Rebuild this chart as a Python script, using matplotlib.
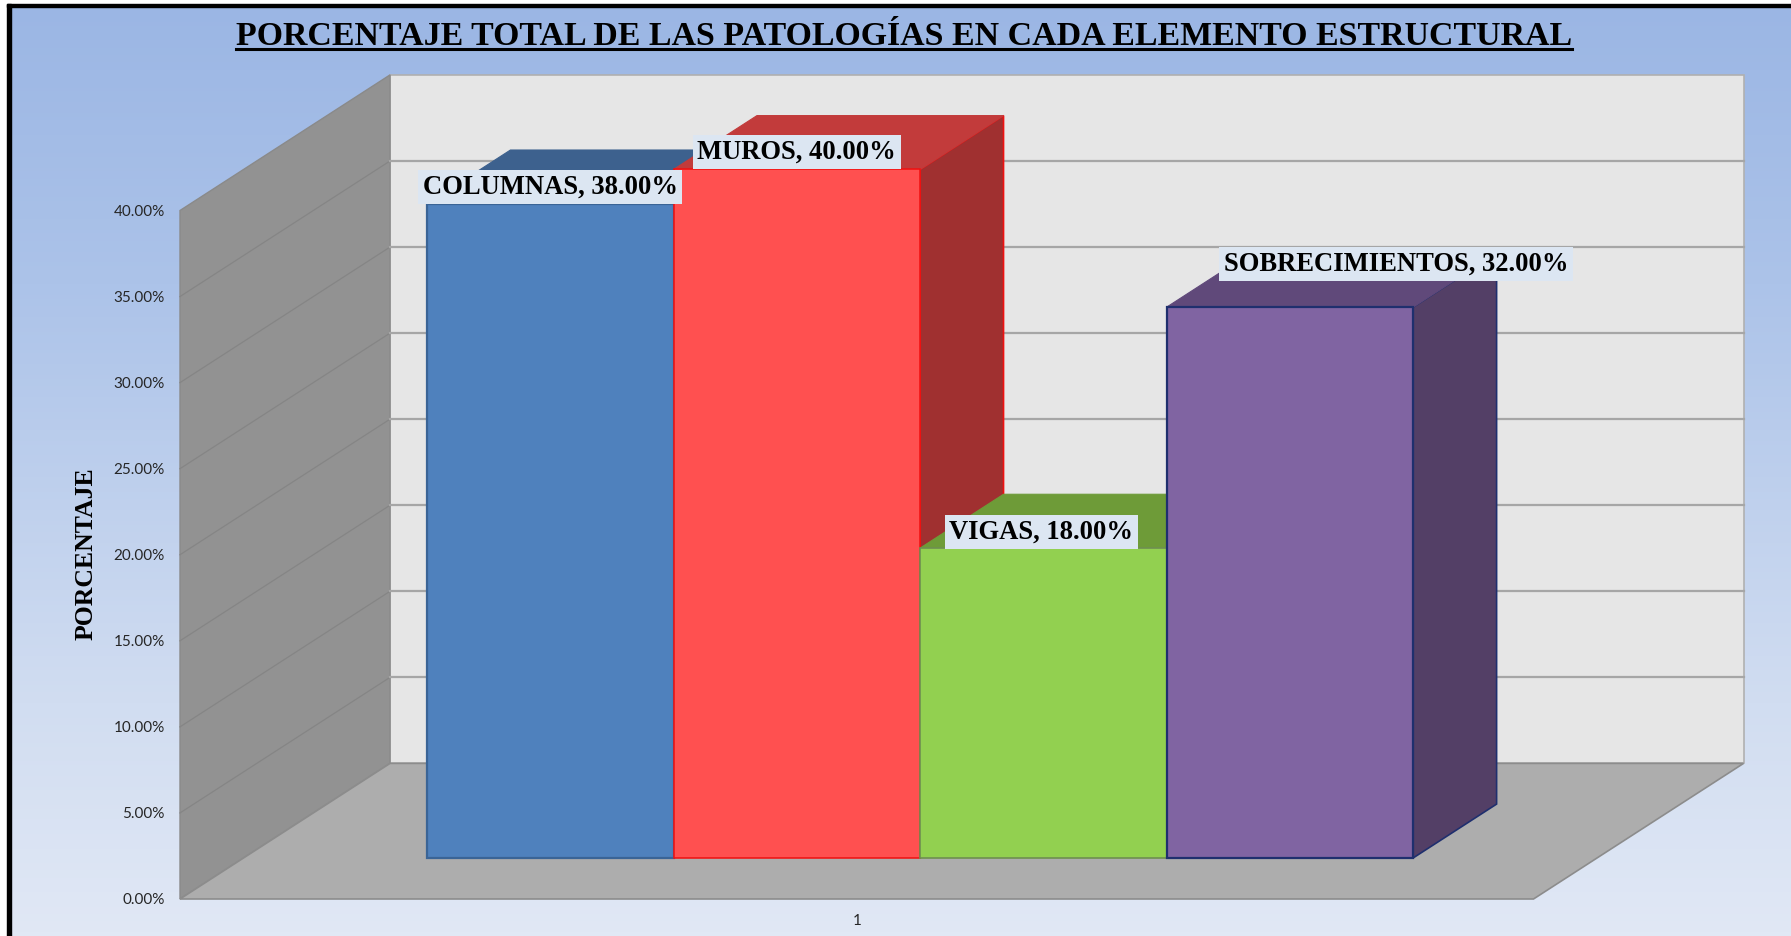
import numpy as np
import matplotlib
matplotlib.use('Agg')
import matplotlib.pyplot as plt
from matplotlib.lines import Line2D
from matplotlib.patches import Rectangle

# data
names = ['COLUMNAS', 'MUROS', 'VIGAS', 'SOBRECIMIENTOS']
values = [38.0, 40.0, 18.0, 32.0]
y_ticks = [0, 5, 10, 15, 20, 25, 30, 35, 40]
x_tick_labels = ['1']

# colours of each bar: front, edge, top, side
front_cols = ['#4F81BD', '#FF5050', '#92D050', '#8064A2']
edge_cols = ['#3A6496', '#F01010', '#6E8F50', '#1F2F6E']
top_cols = ['#3D618E', '#C23B3B', '#6E9B38', '#60497A']
side_cols = ['#33527A', '#A03030', '#5C8030', '#533F66']

W, H = 1791, 936
fig = plt.figure(figsize=(W / 100, H / 100), dpi=100, facecolor='white')

# background gradient
bg = fig.add_axes([7 / W, 0, 1 - 7 / W, 1 - 4 / H], zorder=0)
stops = np.array([[155, 182, 228], [172, 195, 233], [209, 221, 241], [225, 232, 245]]) / 255
t = np.linspace(0, 1, 256)
grad = np.stack([np.interp(t, [0, 0.3, 0.75, 1], stops[:, i]) for i in range(3)], axis=1)
bg.imshow(grad[:, None, :], aspect='auto', extent=[0, 1, 0, 1])
bg.axis('off')

# black border on top and left only
fig.add_artist(Rectangle((7 / W, 1 - 7 / H), 1 - 7 / W, 3 / H, transform=fig.transFigure, color='black', zorder=5))
fig.add_artist(Rectangle((7 / W, 0), 4 / W, 1 - 4 / H, transform=fig.transFigure, color='black', zorder=5))

# axes = front plane of the 3d box
x_left, x_right = 180, 1533.5
y_bot, y_top = 899, 210.5
ax = fig.add_axes([x_left / W, 1 - y_bot / H, (x_right - x_left) / W, (y_bot - y_top) / H], zorder=2)
ax.patch.set_visible(False)
ax.set_xlim(0, 5.49)
ax.set_ylim(0, 40)
for s in ax.spines.values():
    s.set_visible(False)

# oblique projection: z=0 is front of the floor, z=1 the back wall
skew_x = 210 / 246.5
skew_y = 135.5 / 17.2


def proj(x, y, z):
    return x + z * skew_x, y + z * skew_y


def face(pts, **kw):
    xy = [proj(*p) for p in pts]
    return ax.fill([p[0] for p in xy], [p[1] for p in xy], clip_on=False, **kw)


x_max = 5.49
y_max = 40
# walls and floor
face([(0, 0, 1), (x_max, 0, 1), (x_max, y_max, 1), (0, y_max, 1)], fc='#E6E6E6', ec='#B0B0B0', lw=1.2, zorder=1)
face([(0, 0, 0), (0, 0, 1), (0, y_max, 1), (0, y_max, 0)], fc='#929292', ec='#8A8A8A', lw=1, zorder=1)
face([(0, 0, 0), (x_max, 0, 0), (x_max, 0, 1), (0, 0, 1)], fc='#ADADAD', ec='#8C8C8C', lw=1.2, zorder=1)

# gridlines
for v in y_ticks[1:-1]:
    x0, y0 = proj(0, v, 0)
    x1, y1 = proj(0, v, 1)
    x2, y2 = proj(x_max, v, 1)
    ax.plot([x0, x1], [y0, y1], color='#858585', lw=0.9, clip_on=False, zorder=1.5)
    ax.plot([x1, x2], [y1, y2], color='#A6A6A6', lw=1.6, clip_on=False, zorder=1.5)

# bars, painted left to right
z_a, z_b = 0.303, 0.70
gap = 0.744
bar_lw = [1.6, 1.1, 1.2, 1.6]
label_offsets = [(0, 17), (0, 17), (-2, 16), (106, 43)]
for i, v in enumerate(values):
    l = gap + i
    r = l + 1
    zo = 3 + i
    face([(r, 0, z_a), (r, 0, z_b), (r, v, z_b), (r, v, z_a)], fc=side_cols[i], ec=edge_cols[i], lw=1.2, zorder=zo)
    face([(l, v, z_a), (r, v, z_a), (r, v, z_b), (l, v, z_b)], fc=top_cols[i], ec=top_cols[i], lw=0.8, zorder=zo)
    bx, by = proj(l, 0, z_a)
    ax.bar(bx, v, width=1, bottom=by, align='edge', color=front_cols[i], edgecolor=edge_cols[i], lw=bar_lw[i],
           clip_on=False, zorder=zo)

for i, v in enumerate(values):
    px, py = proj(gap + i + 0.5, v, z_a)
    ax.annotate('%s, %.2f%%' % (names[i], v), xy=(px, py), xytext=label_offsets[i], textcoords='offset pixels',
                ha='center', va='center', family='Liberation Serif', fontweight='bold', fontsize=19.2,
                color='black', zorder=10, annotation_clip=False,
                bbox=dict(boxstyle='square,pad=0.17', fc='#DCE6F2', ec='none'))

# axis labels
ax.set_yticks(y_ticks)
ax.set_yticklabels(['%.2f%%' % v for v in y_ticks], family='Lato', fontsize=11, color='#262626')
ax.set_xticks([x_max / 2])
ax.set_xticklabels(x_tick_labels, family='Lato', fontsize=11, color='#262626')
ax.tick_params(axis='y', length=0, pad=11)
ax.tick_params(axis='x', length=0, pad=11)
fig.text(86 / W, 1 - 554 / H, 'PORCENTAJE', rotation=90, ha='center', va='center',
         family='Liberation Serif', fontweight='bold', fontsize=18.5, color='black')

# underlined title
title = fig.text(904 / W, 1 - 45 / H, 'PORCENTAJE TOTAL DE LAS PATOLOGÍAS EN CADA ELEMENTO ESTRUCTURAL',
                 ha='center', va='baseline', family='Liberation Serif', fontweight='bold', fontsize=24.4, color='black')
fig.canvas.draw()
bb = title.get_window_extent()
fig.add_artist(Line2D([bb.x0 / W, bb.x1 / W], [1 - 49 / H, 1 - 49 / H], transform=fig.transFigure,
                      color='black', lw=2.2))

fig.savefig('out.png', dpi=100, facecolor=fig.get_facecolor())
